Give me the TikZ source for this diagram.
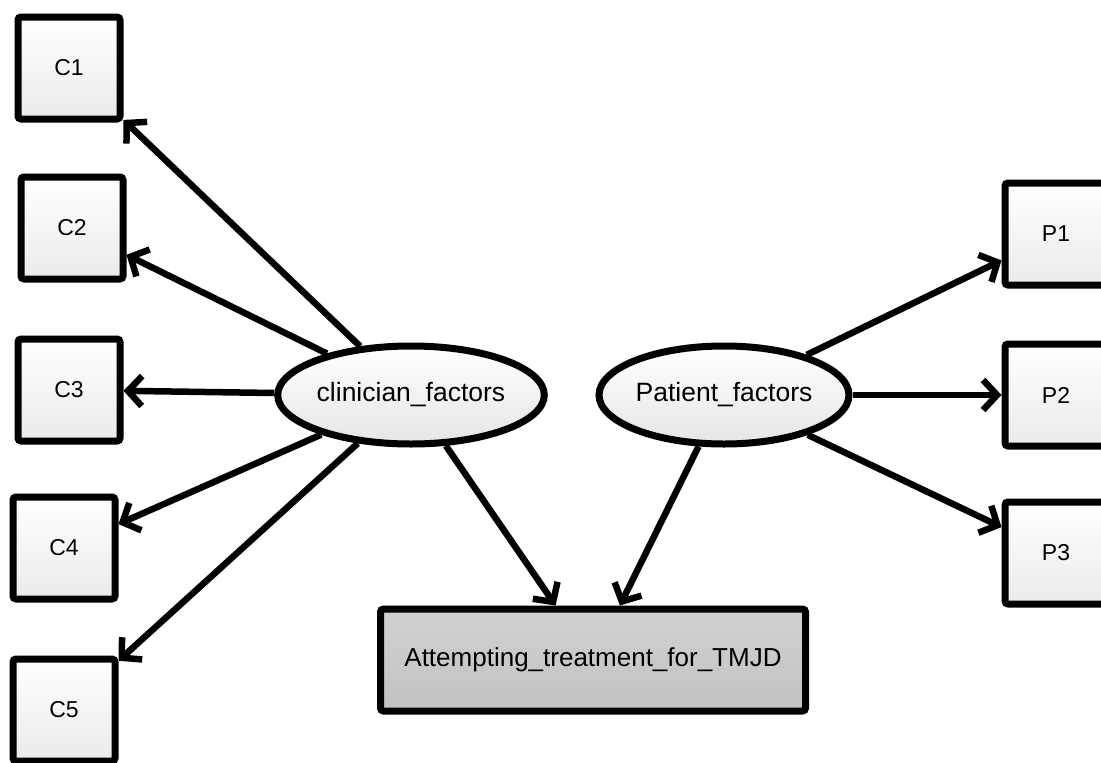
\documentclass[tikz,border=0pt]{standalone}
\usepackage{fontspec}
\setmainfont{Liberation Sans}
\usetikzlibrary{arrows.meta,shapes.geometric}
\tikzset{
  obs/.style={draw, line width=7pt, rounded corners=3pt, minimum width=102pt, minimum height=102pt,
    inner sep=0pt, top color=white, bottom color=black!8, font=\fontsize{23}{27}\selectfont},
  lat/.style={draw, ellipse, line width=7pt, minimum width=245pt, minimum height=98pt, inner sep=0pt,
    top color=white, bottom color=black!10, font=\fontsize{26.5}{31}\selectfont},
  outc/.style={draw, line width=7pt, rounded corners=3pt, minimum width=425pt, minimum height=102pt,
    inner sep=0pt, top color=black!18, bottom color=black!24, font=\fontsize{26}{30}\selectfont},
  link/.style={line width=6.5pt, -{Straight Barb[length=14pt,width=30pt]}}
}
\begin{document}
\begin{tikzpicture}[x=1pt,y=-1pt]
\useasboundingbox (0,0) rectangle (1101,763);
\node[obs] (C1) at (69,68) {C1};
\node[obs] (C2) at (72,228) {C2};
\node[obs] (C3) at (69,390) {C3};
\node[obs] (C4) at (64,548) {C4};
\node[obs] (C5) at (64,710) {C5};
\node[obs] (P1) at (1056,234) {P1};
\node[obs] (P2) at (1056,395) {P2};
\node[obs] (P3) at (1056,553) {P3};
\node[lat] (cf) at (411,395) {clinician\_factors};
\node[lat] (pf) at (724,395) {Patient\_factors};
\node[outc] (tm) at (593,660) {Attempting\_treatment\_for\_TMJD};
\foreach \t in {C1,C2,C3,C4,C5,tm} \draw[link] (cf) -- (\t);
\foreach \t in {P1,P2,P3,tm} \draw[link] (pf) -- (\t);
\end{tikzpicture}
\end{document}
